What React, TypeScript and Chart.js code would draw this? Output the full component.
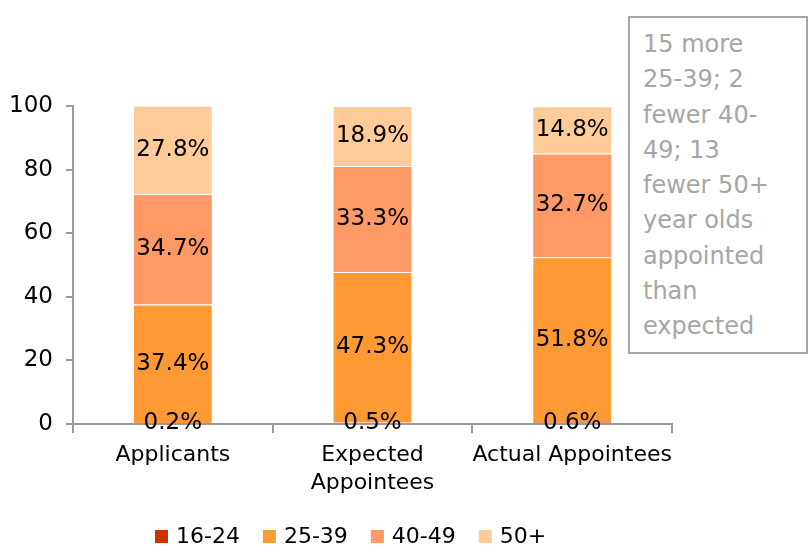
import React, { useEffect, useRef } from "react";
import { Chart, registerables } from "chart.js";

Chart.register(...registerables);

const categories: (string | string[])[] = ["Applicants", ["Expected", "Appointees"], "Actual Appointees"];
const ageGroups = ["16-24", "25-39", "40-49", "50+"];
const age16to24 = [0.2, 0.5, 0.6];
const age25to39 = [37.4, 47.3, 51.8];
const age40to49 = [34.7, 33.3, 32.7];
const age50plus = [27.8, 18.9, 14.8];
const seriesColors = ["#CC3300", "#FF9933", "#FF9966", "#FFCC99"];
const yTicks = [0, 20, 40, 60, 80, 100];
const noteLines = ["15 more", "25-39; 2", "fewer 40-", "49; 13", "fewer 50+", "year olds", "appointed", "than", "expected"];

const FONT = "'DejaVu Sans', sans-serif";
const AXIS = "#9A9A9A";

const valueLabels = {
  id: "valueLabels",
  afterDatasetsDraw(chart: any) {
    const ctx = chart.ctx;
    ctx.save();
    ctx.font = `23px ${FONT}`;
    ctx.fillStyle = "#000";
    ctx.textAlign = "center";
    ctx.textBaseline = "middle";
    chart.data.datasets.forEach((ds: any, di: number) => {
      const meta = chart.getDatasetMeta(di);
      meta.data.forEach((el: any, i: number) => {
        const p = el.getProps(["x", "y", "base"], true);
        ctx.fillText(ds.data[i].toFixed(1) + "%", p.x, (p.y + p.base) / 2);
      });
    });
    ctx.restore();
  },
};

const bottomLegend = {
  id: "bottomLegend",
  afterDraw(chart: any) {
    const ctx = chart.ctx;
    ctx.save();
    ctx.font = `22px ${FONT}`;
    ctx.textBaseline = "middle";
    ctx.textAlign = "left";
    let x = 155;
    const cy = 537;
    chart.data.datasets.forEach((ds: any) => {
      ctx.fillStyle = ds.backgroundColor;
      ctx.fillRect(x, cy - 7, 13, 13);
      ctx.fillStyle = "#000";
      ctx.fillText(ds.label, x + 21, cy);
      x += 13 + 9 + ctx.measureText(ds.label).width + 22;
    });
    ctx.restore();
  },
};

export default function App() {
  const ref = useRef<HTMLCanvasElement | null>(null);
  useEffect(() => {
    if (!ref.current) return;
    const series = [age16to24, age25to39, age40to49, age50plus];
    const chart = new Chart(ref.current, {
      type: "bar",
      data: {
        labels: categories,
        datasets: ageGroups.map((g, i) => ({
          label: g,
          data: series[i],
          backgroundColor: seriesColors[i],
          borderColor: "rgba(255,255,255,0.45)",
          borderWidth: 1,
          categoryPercentage: 1,
          barPercentage: 0.4,
        })),
      },
      options: {
        animation: false,
        responsive: false,
        devicePixelRatio: 1,
        layout: { padding: { top: 106, right: 137, left: 0, bottom: 0 } },
        plugins: { legend: { display: false }, tooltip: { enabled: false } },
        scales: {
          x: {
            stacked: true,
            grid: { display: true, drawOnChartArea: false, drawTicks: true, tickLength: 9, color: AXIS, lineWidth: 2, offset: true },
            border: { display: true, color: AXIS, width: 2 },
            ticks: { color: "#000", font: { family: FONT, size: 22, lineHeight: 1.27 }, padding: 8, maxRotation: 0, autoSkip: false },
            afterFit: (s: any) => { s.height = 126; },
          },
          y: {
            stacked: true,
            min: 0,
            max: 100,
            afterBuildTicks: (s: any) => { s.ticks = yTicks.map((v) => ({ value: v })); },
            grid: { display: true, drawOnChartArea: false, drawTicks: true, tickLength: 7, color: AXIS, lineWidth: 2 },
            border: { display: true, color: AXIS, width: 2 },
            ticks: { color: "#000", font: { family: FONT, size: 23 }, padding: 13 },
            afterFit: (s: any) => { s.width = 73; },
          },
        },
      },
      plugins: [valueLabels, bottomLegend],
    });
    return () => chart.destroy();
  }, []);

  return (
    <div style={{ position: "fixed", left: 0, top: 0, width: 809, height: 550, background: "#fff" }}>
      <canvas ref={ref} width={809} height={550} style={{ position: "absolute", left: 0, top: 0, width: 809, height: 550 }} />
      <div
        style={{
          position: "absolute",
          left: 628,
          top: 16,
          width: 180,
          height: 338,
          boxSizing: "border-box",
          border: "2px solid #A6A6A6",
          background: "#fff",
          padding: "9px 0 0 13px",
          fontFamily: FONT,
          fontSize: 24,
          lineHeight: "35.25px",
          color: "#A6A6A6",
          whiteSpace: "nowrap",
        }}
      >
        {noteLines.map((l, i) => (
          <div key={i}>{l}</div>
        ))}
      </div>
    </div>
  );
}
